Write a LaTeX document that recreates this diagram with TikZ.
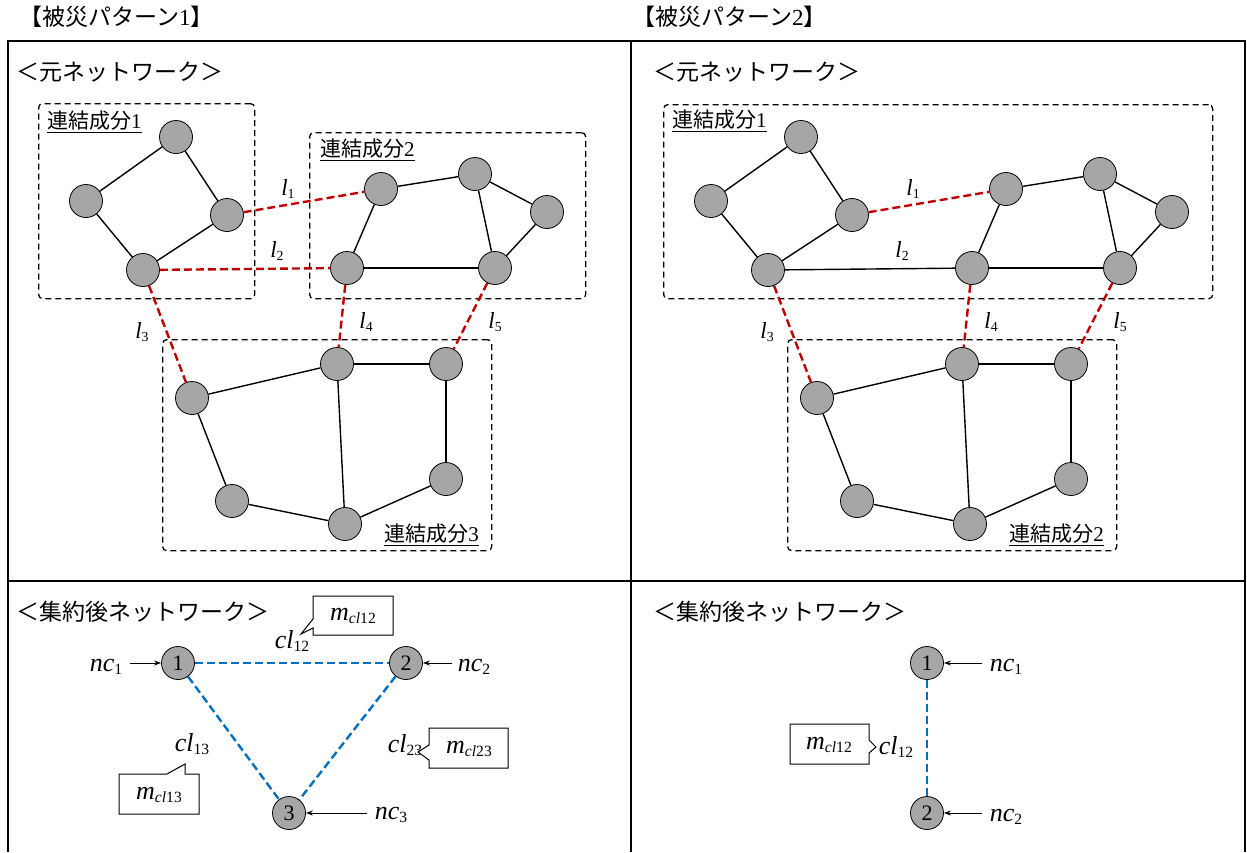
\documentclass[tikz,border=0pt]{standalone}
\usepackage{fontspec}
\setmainfont{Liberation Serif}
\newfontfamily\jp{Noto Sans CJK JP}
\usetikzlibrary{arrows.meta}
\definecolor{nodegray}{HTML}{A6A6A6}
\definecolor{linkred}{HTML}{C00000}
\definecolor{linkblue}{HTML}{0070C0}
\newcommand{\sbs}[1]{\raisebox{-0.3ex}{\scalebox{0.6}{#1}}}
\newcommand{\lsz}{\fontsize{23}{26}\selectfont}
\newcommand{\bsz}{\fontsize{26}{29}\selectfont}
\tikzset{
  vtx/.style={circle, draw=black, line width=0.8pt, fill=nodegray, minimum size=33pt, inner sep=0pt},
  numvtx/.style={vtx, font=\fontsize{22}{24}\selectfont},
  gline/.style={line width=1.4pt},
  redlink/.style={draw=linkred, line width=2.4pt, dash pattern=on 8pt off 4pt},
  bluelink/.style={draw=linkblue, line width=2.4pt, dash pattern=on 8pt off 4pt},
  cbox/.style={draw, line width=1.3pt, dash pattern=on 6pt off 4pt, rounded corners=4pt, anchor=north west, inner sep=0pt},
  frameline/.style={line width=2.2pt},
  titletxt/.style={font=\jp\fontsize{23}{26}\selectfont, anchor=west, inner sep=0pt},
  headtxt/.style={font=\jp\fontsize{23}{27}\selectfont, anchor=west, inner sep=0pt},
  comptxt/.style={font=\fontsize{21}{24}\selectfont, inner sep=0pt},
  ltxt/.style={font=\lsz, inner sep=0pt},
  btxt/.style={font=\bsz, inner sep=0pt},
  callout/.style={draw=black, line width=1pt, fill=white},
  ptr/.style={line width=1pt, -{Stealth[length=7pt,width=5pt]}},
}
\begin{document}
\begin{tikzpicture}[x=1pt,y=-1pt]
\useasboundingbox (0,0) rectangle (1247,852);
\fill[white] (0,0) rectangle (1247,852);

% titles
\node[titletxt] (title1) at (19,17) {【被災パターン{\rmfamily 1}】};
\node[titletxt] (title2) at (632,17) {【被災パターン{\rmfamily 2}】};

% frame
\draw[frameline] (8,852) -- (8,41) -- (1245,41) -- (1245,852);
\draw[frameline] (631,41) -- (631,852);
\draw[frameline] (8,581) -- (1245,581);

% headings
\node[headtxt] (h1) at (16,72) {＜元ネットワーク＞};
\node[headtxt] (h2) at (653,72) {＜元ネットワーク＞};
\node[headtxt] (h3) at (16,612) {＜集約後ネットワーク＞};
\node[headtxt] (h4) at (653,612) {＜集約後ネットワーク＞};

% ---------- left top ----------
\node[cbox, minimum width=216pt, minimum height=195pt] (L1) at (38,103) {};
\node[cbox, minimum width=276pt, minimum height=166pt] (L2) at (309,132) {};
\node[cbox, minimum width=329pt, minimum height=211pt] (L3) at (162,339) {};
\node[comptxt, anchor=west] (L1t) at (47,122) {\underline{{\jp 連結成分}1}};
\node[comptxt, anchor=west] (L2t) at (320,150) {\underline{{\jp 連結成分}2}};
\node[comptxt, anchor=east] (L3t) at (479,535) {\underline{{\jp 連結成分}3}};

\node[vtx] (A1) at (176,137) {};
\node[vtx] (A2) at (86,201) {};
\node[vtx] (A3) at (227,215) {};
\node[vtx] (A4) at (143,270) {};
\node[vtx] (B1) at (381,189) {};
\node[vtx] (B2) at (475,174) {};
\node[vtx] (B3) at (547,212) {};
\node[vtx] (B4) at (347,268) {};
\node[vtx] (B5) at (495,268) {};
\node[vtx] (C1) at (192,398) {};
\node[vtx] (C2) at (337,364) {};
\node[vtx] (C3) at (446,364) {};
\node[vtx] (C4) at (232,501) {};
\node[vtx] (C5) at (345,524) {};
\node[vtx] (C6) at (446,479) {};

\draw[gline] (A1) -- (A2);
\draw[gline] (A1) -- (A3);
\draw[gline] (A2) -- (A4);
\draw[gline] (A3) -- (A4);
\draw[gline] (B1) -- (B2);
\draw[gline] (B1) -- (B4);
\draw[gline] (B2) -- (B3);
\draw[gline] (B2) -- (B5);
\draw[gline] (B3) -- (B5);
\draw[gline] (B4) -- (B5);
\draw[gline] (C1) -- (C2);
\draw[gline] (C2) -- (C3);
\draw[gline] (C1) -- (C4);
\draw[gline] (C2) -- (C5);
\draw[gline] (C3) -- (C6);
\draw[gline] (C4) -- (C5);
\draw[gline] (C5) -- (C6);

\draw[redlink] (A3) -- (B1);
\draw[redlink] (A4) -- (B4);
\draw[redlink] (A4) -- (C1);
\draw[redlink] (B4) -- (C2);
\draw[redlink] (B5) -- (C3);

\node[ltxt] (Ll1) at (288,189) {\textit{l}\sbs{1}};
\node[ltxt] (Ll2) at (277,251) {\textit{l}\sbs{2}};
\node[ltxt] (Ll3) at (142,332) {\textit{l}\sbs{3}};
\node[ltxt] (Ll4) at (366,322) {\textit{l}\sbs{4}};
\node[ltxt] (Ll5) at (495,322) {\textit{l}\sbs{5}};

% ---------- right top ----------
\node[cbox, minimum width=549pt, minimum height=194pt] (R1) at (663,104) {};
\node[cbox, minimum width=329pt, minimum height=211pt] (R3) at (787,339) {};
\node[comptxt, anchor=west] (R1t) at (672,121) {\underline{{\jp 連結成分}1}};
\node[comptxt, anchor=east] (R3t) at (1104,535) {\underline{{\jp 連結成分}2}};

\node[vtx] (D1) at (801,137) {};
\node[vtx] (D2) at (711,201) {};
\node[vtx] (D3) at (852,215) {};
\node[vtx] (D4) at (768,270) {};
\node[vtx] (E1) at (1006,189) {};
\node[vtx] (E2) at (1100,174) {};
\node[vtx] (E3) at (1172,212) {};
\node[vtx] (E4) at (972,268) {};
\node[vtx] (E5) at (1120,268) {};
\node[vtx] (F1) at (817,398) {};
\node[vtx] (F2) at (962,364) {};
\node[vtx] (F3) at (1071,364) {};
\node[vtx] (F4) at (857,501) {};
\node[vtx] (F5) at (970,524) {};
\node[vtx] (F6) at (1071,479) {};

\draw[gline] (D1) -- (D2);
\draw[gline] (D1) -- (D3);
\draw[gline] (D2) -- (D4);
\draw[gline] (D3) -- (D4);
\draw[gline] (D4) -- (E4);
\draw[gline] (E1) -- (E2);
\draw[gline] (E1) -- (E4);
\draw[gline] (E2) -- (E3);
\draw[gline] (E2) -- (E5);
\draw[gline] (E3) -- (E5);
\draw[gline] (E4) -- (E5);
\draw[gline] (F1) -- (F2);
\draw[gline] (F2) -- (F3);
\draw[gline] (F1) -- (F4);
\draw[gline] (F2) -- (F5);
\draw[gline] (F3) -- (F6);
\draw[gline] (F4) -- (F5);
\draw[gline] (F5) -- (F6);

\draw[redlink] (D3) -- (E1);
\draw[redlink] (D4) -- (F1);
\draw[redlink] (E4) -- (F2);
\draw[redlink] (E5) -- (F3);

\node[ltxt] (Rl1) at (913,189) {\textit{l}\sbs{1}};
\node[ltxt] (Rl2) at (902,251) {\textit{l}\sbs{2}};
\node[ltxt] (Rl3) at (767,332) {\textit{l}\sbs{3}};
\node[ltxt] (Rl4) at (991,322) {\textit{l}\sbs{4}};
\node[ltxt] (Rl5) at (1120,322) {\textit{l}\sbs{5}};

% ---------- left bottom ----------
\node[numvtx] (n1) at (178,663) {1};
\node[numvtx] (n2) at (406,663) {2};
\node[numvtx] (n3) at (289,813) {3};
\draw[bluelink] (n1) -- (n2);
\draw[bluelink] (n1) -- (n3);
\draw[bluelink] (n2) -- (n3);

\node[btxt] (nc1) at (106,667) {\textit{nc}\sbs{1}};
\node[btxt] (nc2) at (474,667) {\textit{nc}\sbs{2}};
\node[btxt] (nc3) at (391,815) {\textit{nc}\sbs{3}};
\draw[ptr] (130,663) -- (n1);
\draw[ptr] (452,663) -- (n2);
\draw[ptr] (367,813) -- (n3);

\node[btxt] (cl12) at (292,641) {\textit{cl}\sbs{12}};
\node[btxt] (cl13) at (192,744) {\textit{cl}\sbs{13}};
\node[btxt] (cl23) at (405,745) {\textit{cl}\sbs{23}};

\draw[callout] (313,596) -- (393,596) -- (393,635) -- (313,635) -- (313,628) -- (301,634) -- (313,619) -- cycle;
\node[btxt] (m12) at (353,616) {\textit{m}\sbs{\textit{cl}12}};
\draw[callout] (119,774) -- (167,774) -- (185,764) -- (185,774) -- (199,774) -- (199,814) -- (119,814) -- cycle;
\node[btxt] (m13) at (159,795) {\textit{m}\sbs{\textit{cl}13}};
\draw[callout] (429,728) -- (508,728) -- (508,768) -- (429,768) -- (429,760) -- (418,752) -- (429,745) -- cycle;
\node[btxt] (m23) at (469,749) {\textit{m}\sbs{\textit{cl}23}};

% ---------- right bottom ----------
\node[numvtx] (p1) at (927,663) {1};
\node[numvtx] (p2) at (927,813) {2};
\draw[bluelink] (p1) -- (p2);
\node[btxt] (pc1) at (1006,667) {\textit{nc}\sbs{1}};
\node[btxt] (pc2) at (1006,817) {\textit{nc}\sbs{2}};
\draw[ptr] (982,663) -- (p1);
\draw[ptr] (982,813) -- (p2);
\node[btxt] (pcl12) at (896,747) {\textit{cl}\sbs{12}};
\draw[callout] (790,724) -- (869,724) -- (869,740) -- (876,747) -- (869,753) -- (869,764) -- (790,764) -- cycle;
\node[btxt] (pm12) at (829,745) {\textit{m}\sbs{\textit{cl}12}};
\end{tikzpicture}
\end{document}
